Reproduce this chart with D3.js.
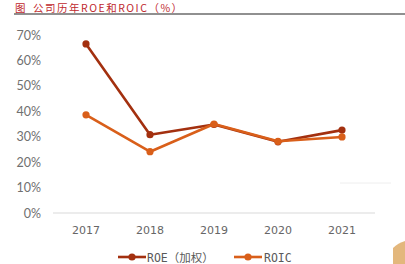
<!DOCTYPE html>
<html><head><meta charset="utf-8">
<script src="https://cdn.jsdelivr.net/npm/d3@7"></script>
<style>body{margin:0;background:#fff}svg{display:block}</style>
</head><body>
<script>
const years = ["2017","2018","2019","2020","2021"];
const roe = [66.5, 30.8, 34.8, 28.0, 32.6];
const roic = [38.6, 24.1, 35.0, 28.2, 29.9];
const yTicks = [0,10,20,30,40,50,60,70];
const seriesNames = ["ROE（加权）","ROIC"];
const colors = ["#a3300f","#d95f1a"];

const W=405,H=264;
const svg=d3.select("body").append("svg").attr("width",W).attr("height",H);

// title
const t=svg.append("text").attr("x",15).attr("y",11.8).attr("fill","#c0282d")
  .attr("font-family","'Noto Sans CJK SC',sans-serif").attr("font-size",10.5);
t.append("tspan").text("图");
t.append("tspan").attr("x",33).attr("letter-spacing",1.5).text("公司历年ROE和ROIC（%）");
svg.append("line").attr("x1",14).attr("x2",405).attr("y1",14).attr("y2",14)
  .attr("stroke","#222").attr("stroke-width",1.2);

const x=d3.scalePoint().domain(years).range([86,342]);
const y=d3.scaleLinear().domain([0,70]).range([213,35]);

// y labels
svg.append("g").selectAll("text").data(yTicks).join("text")
  .attr("x",41).attr("y",d=>y(d)+4.5).attr("text-anchor","end")
  .attr("fill","#707070").attr("font-family","Lato, 'DejaVu Sans', sans-serif").attr("font-size",12.5)
  .text(d=>d+"%");

// baseline
svg.append("line").attr("x1",53).attr("x2",375).attr("y1",y(0)).attr("y2",y(0))
  .attr("stroke","#d9d9d9").attr("stroke-width",1);

// x labels
svg.append("g").selectAll("text").data(years).join("text")
  .attr("x",d=>x(d)).attr("y",234).attr("text-anchor","middle")
  .attr("fill","#666").attr("font-family","'DejaVu Sans', sans-serif").attr("font-size",11)
  .text(d=>d);

const data=[roe,roic];
const line=d3.line().x((d,i)=>x(years[i])).y(d=>y(d));
data.forEach((s,k)=>{
  svg.append("path").attr("d",line(s)).attr("fill","none")
    .attr("stroke",colors[k]).attr("stroke-width",2.6).attr("stroke-linejoin","round");
  svg.append("g").selectAll("circle").data(s).join("circle")
    .attr("cx",(d,i)=>x(years[i])).attr("cy",d=>y(d)).attr("r",3.6).attr("fill",colors[k]);
});

// legend
const lg=[{x0:118,tx:147},{x0:234,tx:264}];
seriesNames.forEach((n,k)=>{
  const g=svg.append("g");
  g.append("line").attr("x1",lg[k].x0).attr("x2",lg[k].x0+28).attr("y1",257).attr("y2",257)
    .attr("stroke",colors[k]).attr("stroke-width",2.6);
  g.append("circle").attr("cx",lg[k].x0+14).attr("cy",257).attr("r",3.6).attr("fill",colors[k]);
  g.append("text").attr("x",lg[k].tx).attr("y",261.5).attr("fill","#595959")
    .attr("font-family","'DejaVu Sans Mono','Noto Sans CJK SC', monospace").attr("font-size",11.5)
    .text(n);
});

// faint artifact line & corner decoration
svg.append("line").attr("x1",340).attr("x2",391).attr("y1",183).attr("y2",183)
  .attr("stroke","#eee").attr("stroke-width",1);
svg.append("path").attr("d","M393,264 L393,248 Q398,243 405,241 L405,264 Z").attr("fill","#e3b77c");
</script>
</body></html>
